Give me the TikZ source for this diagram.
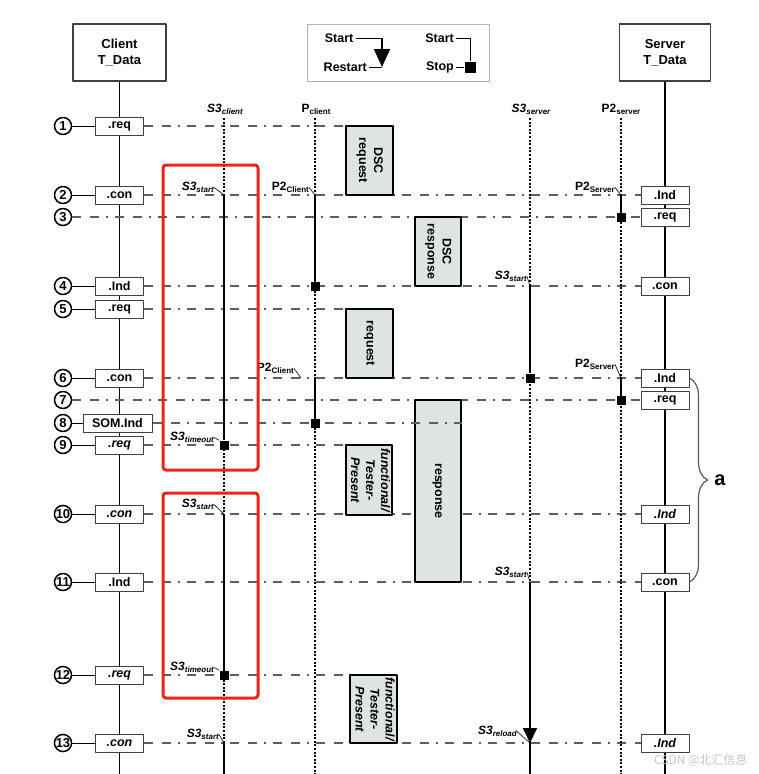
\documentclass[tikz,border=0pt]{standalone}
\usepackage{fontspec}
\setmainfont{Liberation Sans}
\newfontfamily\cjk{Noto Sans CJK SC}
\usetikzlibrary{arrows.meta,positioning,decorations.pathreplacing}

\pgfdeclarelayer{background}
\pgfsetlayers{background,main}

\definecolor{svcgray}{RGB}{222,228,228}
\definecolor{markred}{RGB}{238,36,28}
\definecolor{msggray}{RGB}{95,95,95}

\newcommand{\tlbl}[2]{#1\raisebox{-0.35ex}{\fontsize{8}{8}\selectfont #2}}
\newcommand{\vtext}[1]{\rotatebox{-90}{\begin{tabular}{@{}c@{}}#1\end{tabular}}}

\begin{document}
\begin{tikzpicture}[
    x = 1pt, y = -1pt, % one unit per pixel, y going down
    font = \bfseries\fontsize{12.5}{14}\selectfont,
    line join = round
    ]

    \tikzset{
    owner/.style = {draw = black!75, line width = 1.2pt, fill = white, minimum width = 93pt, minimum height = 57pt, align = center, inner sep = 0pt, font = \bfseries\fontsize{13}{16}\selectfont},
    prim/.style = {draw = black!75, line width = 1pt, fill = white, minimum width = 48pt, minimum height = 18pt, inner sep = 0pt},
    rownum/.style = {circle, draw, line width = 1.5pt, fill = white, minimum size = 17pt, inner sep = 0pt, font = \bfseries\fontsize{13}{13}\selectfont},
    life/.style = {line width = 1.6pt},
    msg/.style = {draw = msggray, line width = 1.2pt, dash pattern = on 9pt off 9pt on 9pt off 7pt on 2pt off 7pt},
    timerline/.style = {line width = 1.3pt, dash pattern = on 2pt off 1.6pt},
    runline/.style = {line width = 1.8pt},
    halt/.style = {fill = black, minimum size = 9pt, inner sep = 0pt},
    slant/.style = {line width = 0.6pt},
    tname/.style = {anchor = south, inner sep = 0pt, font = \bfseries\fontsize{12}{12}\selectfont},
    evt/.style = {anchor = south east, inner sep = 0pt, font = \bfseries\fontsize{12}{12}\selectfont},
    svcbox/.style = {draw, line width = 1.5pt, fill = svcgray, inner sep = 0pt, font = \bfseries\fontsize{12.5}{15}\selectfont},
    redbox/.style = {draw = markred, line width = 3pt, rounded corners = 3pt}
    }

    \useasboundingbox (0,0) rectangle (759,774);

    % owners and legend
    \node[owner] (client) at (119.5,52.5) {Client\\T\_Data};
    \node[owner, minimum width = 91pt] (server) at (665,52.5) {Server\\T\_Data};
    \coordinate (clientend) at (119.5,774);
    \coordinate (serverend) at (665,774);

    \node[draw = black!30, line width = 0.8pt, minimum width = 182pt, minimum height = 57pt] (legend) at (398,52.5) {};
    \node[anchor = east, inner sep = 2pt] (lgstart) at (355.5,38) {Start};
    \node[anchor = east, inner sep = 2pt] (lgrestart) at (369,67) {Restart};
    \coordinate (lgtop) at (382,38);
    \coordinate (lgtip) at (382,67);
    \draw[line width = 1pt] (lgstart) -- (lgtop);
    \draw[runline, -{Triangle[width=16pt,length=18pt]}] (lgtop) -- (lgtip);
    \draw[line width = 1pt] (lgrestart) -- (lgtip);
    \node[anchor = east, inner sep = 2pt] (lgstart2) at (456,38) {Start};
    \node[anchor = east, inner sep = 2pt] (lgstop) at (456,67) {Stop};
    \coordinate (lgtop2) at (470,38);
    \node[halt, minimum size = 11pt] (lghalt) at (470,67) {};
    \draw[line width = 1pt] (lgstart2) -- (lgtop2) -- (lghalt);
    \draw[line width = 1pt] (lgstop) -- (lghalt);

    % client side
    \foreach \i/\y in {1/126,2/195,3/217,4/286,5/309,6/378,7/400,8/423,9/445,10/514,11/582,12/675,13/743}
      \node[rownum] (n\i) at (63,\y) {\i};

    \node[prim] (c1) at (119.5,126) {.req};
    \node[prim] (c2) at (119.5,195) {.con};
    \node[prim] (c4) at (119.5,286) {.Ind};
    \node[prim] (c5) at (119.5,309) {.req};
    \node[prim] (c6) at (119.5,378) {.con};
    \node[prim, minimum width = 69pt] (c8) at (117.5,423) {SOM.Ind};
    \node[prim] (c9) at (119.5,445) {\itshape .req};
    \node[prim] (c10) at (119.5,514) {\itshape .con};
    \node[prim] (c11) at (119.5,582) {.Ind};
    \node[prim] (c12) at (119.5,675) {\itshape .req};
    \node[prim] (c13) at (119.5,743) {\itshape .con};

    \foreach \i in {1,2,4,5,6,8,9,10,11,12,13}
      \draw[line width = 1pt] (n\i) -- (c\i);

    % server side
    \node[prim] (s2) at (665,195) {.Ind};
    \node[prim] (s3) at (665,217) {.req};
    \node[prim] (s4) at (665,286) {.con};
    \node[prim] (s6) at (665,378) {.Ind};
    \node[prim] (s7) at (665,400) {.req};
    \node[prim] (s10) at (665,514) {\itshape .Ind};
    \node[prim] (s11) at (665,582) {.con};
    \node[prim] (s13) at (665,743) {\itshape .Ind};

    % services
    \node[svcbox, minimum width = 47pt, minimum height = 69pt] (dscreq) at (369.5,160.5) {\vtext{DSC\\request}};
    \node[svcbox, minimum width = 46pt, minimum height = 69pt] (dscresp) at (438,251.5) {\vtext{DSC\\response}};
    \node[svcbox, minimum width = 47pt, minimum height = 69pt] (req) at (369.5,343.5) {\vtext{request}};
    \node[svcbox, minimum width = 46pt, minimum height = 182pt] (resp) at (438,491) {\vtext{response}};
    \node[svcbox, font = \bfseries\itshape\fontsize{12.5}{15}\selectfont, minimum width = 46pt, minimum height = 70pt] (ftp1) at (369,480) {\vtext{functional/\\Tester-\\Present}};
    \node[svcbox, font = \bfseries\itshape\fontsize{12.5}{15}\selectfont, minimum width = 47pt, minimum height = 68pt] (ftp2) at (373.5,709) {\vtext{functional/\\Tester-\\Present}};

    \begin{pgfonlayer}{background}
    \draw[life] (client) -- (clientend);
    \draw[life] (server) -- (serverend);
    \draw[msg] (c1.east) -- (c1.east -| dscreq.west);
    \draw[msg] (c2.east) -- (s2.west);
    \draw[msg] (n3.east) -- (s3.west);
    \draw[msg] (c4.east) -- (s4.west);
    \draw[msg] (c5.east) -- (c5.east -| req.west);
    \draw[msg] (c6.east) -- (s6.west);
    \draw[msg] (n7.east) -- (s7.west);
    \draw[msg] (c9.east) -- (c9.east -| ftp1.west);
    \draw[msg] (c10.east) -- (s10.west);
    \draw[msg] (c11.east) -- (s11.west);
    \draw[msg] (c12.east) -- (c12.east -| ftp2.west);
    \draw[msg] (c13.east) -- (s13.west);
    \end{pgfonlayer}
    \draw[msg] (c8.east) -- (c8.east -| resp.east);

    % S3 client
    \coordinate (s3ctop) at (224,118);
    \coordinate (s3cend) at (224,774);
    \node[tname] (s3cname) at (225,115) {\itshape\tlbl{S3}{client}};
    \draw[timerline] (s3ctop) -- (s3cend);
    \coordinate (a1) at (224,195);
    \node[halt] (a2) at (224,445) {};
    \coordinate (a3) at (224,514);
    \node[halt] (a4) at (224,675) {};
    \coordinate (a5) at (224,743);
    \draw[runline] (a1) -- (a2);
    \draw[runline] (a3) -- (a4);
    \draw[runline] (a5) -- (s3cend);
    \node[evt] (a1l) at (214,193) {\itshape\tlbl{S3}{start}};
    \draw[slant] (a1l.east) -- (a1);
    \node[evt] (a2l) at (214,443) {\itshape\tlbl{S3}{timeout}};
    \draw[slant] (a2l.east) -- (a2.north west);
    \node[evt] (a3l) at (214,510) {\itshape\tlbl{S3}{start}};
    \draw[slant] (a3l.east) -- (a3);
    \node[evt] (a4l) at (214,673) {\itshape\tlbl{S3}{timeout}};
    \draw[slant] (a4l.east) -- (a4.north west);
    \node[evt] (a5l) at (219,740) {\itshape\tlbl{S3}{start}};
    \draw[slant] (a5l.east) -- (a5);

    % P client
    \coordinate (pctop) at (315,118);
    \coordinate (pcend) at (315,774);
    \node[tname] (pcname) at (316,115) {\tlbl{P}{client}};
    \draw[timerline] (pctop) -- (pcend);
    \coordinate (b1) at (315,195);
    \node[halt] (b2) at (315,286) {};
    \coordinate (b3) at (315,378);
    \node[halt] (b4) at (315,423) {};
    \coordinate (b3t) at (301,378);
    \draw[runline] (b1) -- (b2);
    \draw[runline] (b3) -- (b4);
    \node[evt] (b1l) at (309,193) {\tlbl{P2}{Client}};
    \draw[slant] (b1l.east) -- (b1);
    \node[evt] (b3l) at (294,374) {\tlbl{P2}{Client}};
    \draw[slant] (b3l.east) -- (b3t);

    % S3 server
    \coordinate (s3svtop) at (530,118);
    \coordinate (s3svend) at (530,774);
    \node[tname] (s3svname) at (531,115) {\itshape\tlbl{S3}{server}};
    \draw[timerline] (s3svtop) -- (s3svend);
    \coordinate (d1) at (530,286);
    \node[halt] (d2) at (530,378) {};
    \coordinate (d3) at (530,582);
    \coordinate (d4) at (530,743);
    \draw[runline] (d1) -- (d2);
    \draw[runline, -{Triangle[width=14pt,length=15pt]}] (d3) -- (d4);
    \draw[runline] (d4) -- (s3svend);
    \node[evt] (d1l) at (527,282) {\itshape\tlbl{S3}{start}};
    \draw[slant] (d1l.east) -- (d1);
    \node[evt] (d3l) at (527,578) {\itshape\tlbl{S3}{start}};
    \draw[slant] (d3l.east) -- (d3);
    \node[evt] (d4l) at (517,737) {\itshape\tlbl{S3}{reload}};
    \draw[slant] (d4l.east) -- (d4);

    % P2 server
    \coordinate (p2svtop) at (621,118);
    \coordinate (p2svend) at (621,774);
    \node[tname] (p2svname) at (621,115) {\tlbl{P2}{server}};
    \draw[timerline] (p2svtop) -- (p2svend);
    \coordinate (f1) at (621,195);
    \node[halt] (f2) at (621,217) {};
    \coordinate (f3) at (621,378);
    \node[halt] (f4) at (621,400) {};
    \draw[runline] (f1) -- (f2);
    \draw[runline] (f3) -- (f4);
    \node[evt] (f1l) at (615,193) {\tlbl{P2}{Server}};
    \draw[slant] (f1l.east) -- (f1);
    \node[evt] (f3l) at (615,370) {\tlbl{P2}{Server}};
    \draw[slant] (f3l.east) -- (f3);

    % brace and highlights
    \draw[draw = black!65, line width = 1.2pt, decorate, decoration = {brace, amplitude = 18pt}]
      (s6.east) -- (s11.east) node[midway, anchor = west, xshift = 21pt, font = \bfseries\fontsize{20}{20}\selectfont] (bracelbl) {a};

    \draw[redbox] (163,165) rectangle (258,470);
    \draw[redbox] (163,493) rectangle (258,698);

    \node[anchor = east, text = black!22, font = \cjk\fontsize{12}{12}\selectfont] (wmark) at (751,760) {CSDN @北汇信息};
\end{tikzpicture}
\end{document}
